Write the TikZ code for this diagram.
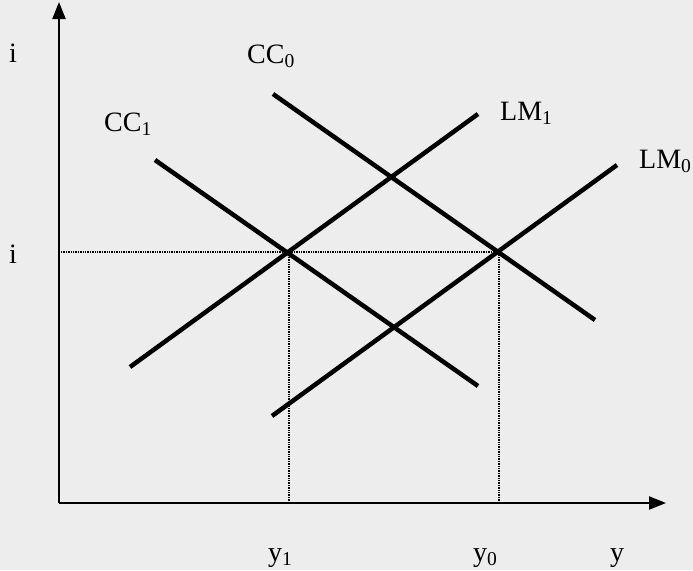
\documentclass[tikz,border=0pt]{standalone}
\usepackage{fontspec}
\setmainfont{Liberation Serif}
\usetikzlibrary{arrows.meta}

\begin{document}
\begin{tikzpicture}[
    x=1pt, y=-1pt,
    axis/.style={-{Triangle[length=17pt,width=13pt]}, line width=2.2pt},
    curve/.style={line width=4.5pt},
    guide/.style={line width=1.5pt, dash pattern=on 1.4pt off 1.0pt},
    lbl/.style={font=\fontsize{28}{30}\selectfont, inner sep=0pt, anchor=base west},
]
\fill[black!7] (0,0) rectangle (693,570);
\useasboundingbox (0,0) rectangle (693,570);

\coordinate (O) at (59,503);
\coordinate (itop) at (59,2);
\coordinate (yend) at (666,503);
\coordinate (E1) at (289,252);
\coordinate (E0) at (499,252);
\coordinate (ieq) at (61,252);
\coordinate (y1foot) at (289,502);
\coordinate (y0foot) at (499,502);
\coordinate (cc0a) at (273,94);   \coordinate (cc0b) at (595,320);
\coordinate (cc1a) at (155,160);  \coordinate (cc1b) at (478,386);
\coordinate (lm1a) at (130,367);  \coordinate (lm1b) at (478,114);
\coordinate (lm0a) at (272,416);  \coordinate (lm0b) at (617,165);

\draw[guide] (ieq) -- (E0);
\draw[guide] (E1) -- (y1foot);
\draw[guide] (E0) -- (y0foot);

\draw[axis] (O) -- (itop);
\draw[axis] (O) -- (yend);

\draw[curve] (cc0a) -- (cc0b);
\draw[curve] (cc1a) -- (cc1b);
\draw[curve] (lm1a) -- (lm1b);
\draw[curve] (lm0a) -- (lm0b);

\node[lbl] (ilab) at (9,62) {i};
\node[lbl] (ieqlab) at (9,263) {i};
\node[lbl] (cc0lab) at (247,63) {CC\textsubscript{0}};
\node[lbl] (cc1lab) at (104,131) {CC\textsubscript{1}};
\node[lbl] (lm1lab) at (500,120) {LM\textsubscript{1}};
\node[lbl] (lm0lab) at (639,168) {LM\textsubscript{0}};
\node[lbl] (y1lab) at (268,561) {y\textsubscript{1}};
\node[lbl] (y0lab) at (473,561) {y\textsubscript{0}};
\node[lbl] (ylab) at (610,561) {y};
\end{tikzpicture}
\end{document}
